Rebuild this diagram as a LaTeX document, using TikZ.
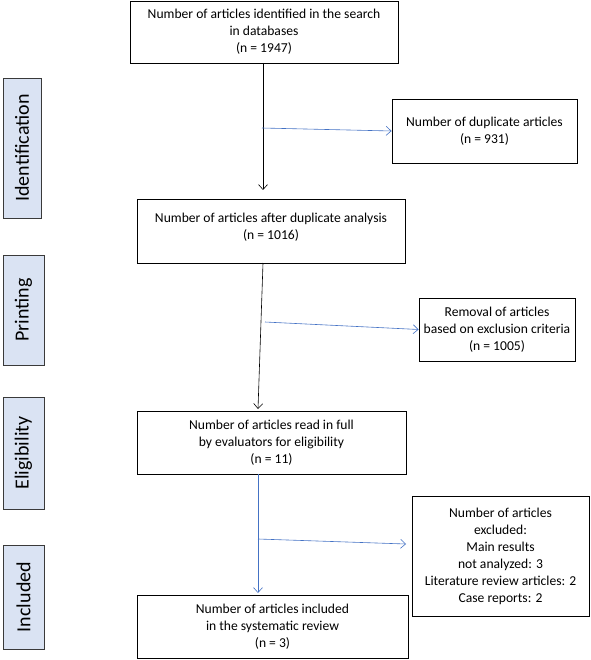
\documentclass[tikz,border=0pt]{standalone}
\usepackage{fontspec}
\setmainfont{Carlito}
\usetikzlibrary{arrows.meta}
\definecolor{sidefill}{HTML}{DAE3F3}
\definecolor{sideborder}{HTML}{3A3A3A}
\definecolor{bluearrow}{HTML}{4472C4}
\begin{document}
\begin{tikzpicture}[x=1pt,y=-1pt,
  box/.style={draw=black,line width=0.8pt,fill=white,align=center,inner sep=1pt,
    font=\fontsize{13.6}{17}\selectfont},
  plain/.style={align=center,inner sep=0pt,font=\fontsize{13.6}{17}\selectfont},
  sidebox/.style={draw=sideborder,line width=0.9pt,fill=sidefill,
    font=\fontsize{20}{22}\selectfont,rotate=90,inner sep=0pt},
  blk/.style={draw=black,line width=0.6pt,-{Straight Barb[length=5pt,width=9pt]}},
  blu/.style={draw=bluearrow,line width=0.6pt,-{Straight Barb[length=5pt,width=9pt]}}]
\useasboundingbox (0,0) rectangle (590,660);
% side labels
\node[sidebox,minimum width=140pt,minimum height=38pt] (sid) at (22,148) {Identification};
\node[sidebox,minimum width=110pt,minimum height=41pt] (spr) at (23.5,310) {Printing};
\node[sidebox,minimum width=112pt,minimum height=41pt] (sel) at (23.5,453) {Eligibility};
\node[sidebox,minimum width=104pt,minimum height=41pt] (sin) at (23.5,597) {Included};
% main boxes
\node[box,minimum width=268pt,minimum height=62pt] (b1) at (264,32)
  {Number of articles identified in the search\\in databases\\(n = 1947)};
\node[box,minimum width=185pt,minimum height=64pt] (dup) at (484.5,131)
  {Number of duplicate articles\\(n = 931)};
\node[box,minimum width=268pt,minimum height=64pt] (b2) at (271,231) {};
\node[plain] (b2t) at (271,227.5)
  {Number of articles after duplicate analysis\\(n = 1016)};
\node[box,minimum width=156pt,minimum height=63pt,inner sep=0pt] (rem) at (497,329.5)
  {Removal of articles\\based on exclusion criteria\\(n = 1005)};
\node[box,minimum width=269pt,minimum height=63pt] (b3) at (271.5,442.5)
  {Number of articles read in full\\by evaluators for eligibility\\(n = 11)};
\node[box,minimum width=177pt,minimum height=120pt] (exc) at (500.5,556)
  {Number of articles\\excluded:\\Main results\\not analyzed: 3\\Literature review articles: 2\\Case reports: 2};
\node[box,minimum width=271pt,minimum height=63pt] (b4) at (272.5,626.5)
  {Number of articles included\\in the systematic review\\(n = 3)};
% connector points
\coordinate (a1s) at (263,63);
\coordinate (a1e) at (263,190);
\coordinate (d1) at (262,128);
\coordinate (a2s) at (263,263);
\coordinate (a2e) at (258,409);
\coordinate (d2) at (265,322);
\coordinate (a3s) at (258,474);
\coordinate (a3e) at (258,593);
\coordinate (d3) at (258,539);
% connectors
\draw[blk] (a1s) -- (a1e);
\draw[blu] (d1) -- (dup.west);
\draw[blk] (a2s) -- (a2e);
\draw[blu] (d2) -- (rem.west);
\draw[blu] (a3s) -- (a3e);
\draw[blu] (d3) -- (406,544);
\end{tikzpicture}
\end{document}
